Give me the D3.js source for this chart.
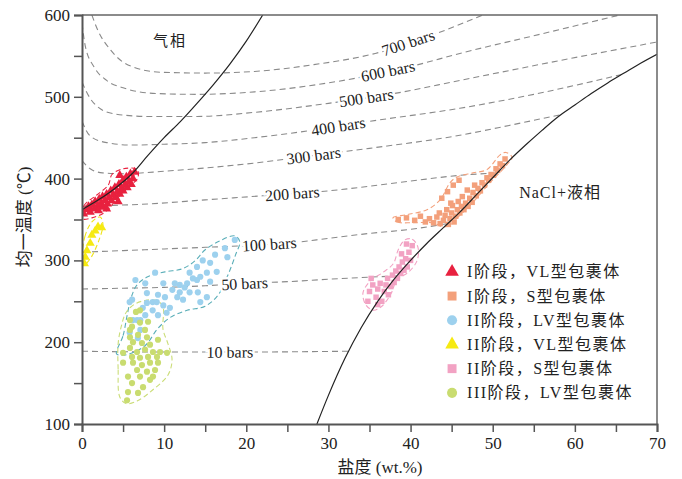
<!DOCTYPE html>
<html>
<head>
<meta charset="utf-8">
<script src="https://cdn.jsdelivr.net/npm/d3@7"></script>
<style>
  body { margin: 0; background: #fff; }
  svg { display: block; }
</style>
</head>
<body>
<script>
// axis ticks
const xTicks = [0, 10, 20, 30, 40, 50, 60, 70]
const yTicks = [100, 200, 300, 400, 500, 600]

// phase boundaries [salinity wt.%, temperature]
const vlCurve = [[0, 362], [2, 374], [4, 388], [6, 405], [8, 428], [10, 450], [12, 470], [14, 492], [16, 515], [18, 540], [20, 568], [22, 600]]
const haliteCurve = [[28.6, 100], [30, 135], [32, 180], [34, 218], [36, 250], [38, 277], [40, 300], [42, 321], [44, 340], [46, 359], [48, 380], [50, 401], [52, 422], [54, 441], [56, 459], [58, 476], [60, 490], [62, 504], [64, 517], [66, 529], [68, 541], [70, 552]]

// isobars
const isobarNames = ["10 bars", "50 bars", "100 bars", "200 bars", "300 bars", "400 bars", "500 bars", "600 bars", "700 bars"]
const isobars = [
  [[0, 189], [10, 188], [20, 188], [32.5, 189]],
  [[0, 265], [5, 266], [10, 267], [15, 269], [20, 272], [25, 274], [30, 277], [38.3, 281]],
  [[0, 310], [5, 312], [10, 314], [15, 316], [20, 318], [26, 322], [30, 327], [35, 333], [40, 338], [44.5, 345]],
  [[0, 366], [3, 367], [8, 369], [15, 374], [22, 379], [30, 385], [40, 397], [46, 404], [50.6, 407]],
  [[0, 422], [1, 412], [2.5, 407], [5, 406], [10, 409], [15, 413], [21, 419], [28, 428], [35, 437], [46, 453], [52, 465], [58.2, 478]],
  [[0, 470], [1, 452], [3, 444], [6, 441], [10, 442], [15, 444], [21, 450], [28, 459], [35, 470], [46, 486], [55, 503], [65.6, 527]],
  [[0, 518], [1, 498], [2, 487], [4, 479], [8, 476], [14, 476], [21, 481], [30, 492], [38, 504], [46, 520], [58, 544], [70, 567]],
  [[0, 590], [0.4, 562], [1.5, 536], [3, 520], [5, 511], [9, 504], [14, 503], [21, 506], [30, 517], [40, 537], [46, 553], [56, 577], [65.5, 600]],
  [[1.2, 600], [1.9, 582], [3.5, 557], [5.6, 539], [9.6, 530], [15, 529], [21, 531], [28, 539], [35.7, 553], [43.3, 578], [48.8, 600]],
]
const isobarLabelAt = [18.0, 19.8, 22.8, 25.6, 28.2, 31.2, 34.6, 37.25, 39.7]

// series
const seriesNames = ["I阶段，VL型包裹体", "I阶段，S型包裹体", "II阶段，LV型包裹体", "II阶段，VL型包裹体", "II阶段，S型包裹体", "III阶段，LV型包裹体"]
const seriesColors = ["#e8213f", "#f3a07b", "#9dd1ee", "#f6ea12", "#f2a2c3", "#c9dc70"]
const envelopeColors = ["#e8213f", "#f3a07b", "#5aaeb8", "#f0e418", "#f2a2c3", "#cbdd78"]

const stage1VL = [[0.2, 357], [0.5, 362], [0.8, 366], [1.0, 359], [1.2, 368], [1.5, 363], [1.6, 372], [1.9, 367], [2.1, 375], [2.3, 369], [2.5, 378], [2.6, 365], [2.8, 373], [3.0, 381], [3.1, 369], [3.3, 377], [3.5, 385], [3.6, 373], [3.8, 380], [4.0, 389], [4.1, 377], [4.3, 384], [4.5, 393], [4.6, 381], [4.8, 388], [5.0, 398], [5.0, 385], [5.2, 392], [5.4, 402], [5.5, 389], [5.7, 396], [5.9, 406], [6.0, 393], [6.2, 400], [6.4, 408], [3.0, 363], [2.0, 361], [4.4, 372], [4.6, 404]]
const stage1S = [[38.5, 350], [39.5, 352], [40.5, 349], [41.2, 354], [41.8, 347], [42.3, 351], [42.8, 346], [43.2, 353], [43.5, 358], [43.6, 345], [44.0, 349], [44.2, 355], [44.4, 362], [44.6, 344], [44.8, 351], [45.0, 358], [45.1, 367], [45.3, 347], [45.5, 354], [45.7, 362], [45.8, 372], [46.0, 358], [46.2, 366], [46.3, 378], [46.5, 362], [46.7, 370], [46.9, 386], [47.0, 366], [47.2, 376], [47.5, 371], [47.6, 383], [47.8, 392], [48.0, 379], [48.2, 388], [48.5, 385], [48.7, 395], [49.0, 392], [49.3, 401], [49.5, 398], [49.8, 405], [50.1, 404], [50.4, 412], [50.6, 410], [50.9, 418], [51.2, 416], [51.5, 424], [44.5, 384], [45.2, 392], [45.9, 398], [43.8, 376], [44.9, 370]]
const stage2LV = [[18.6, 325], [17.4, 315], [16.2, 307], [14.7, 300], [15.6, 297], [16.4, 286], [15.2, 285], [14.4, 280], [14.0, 276], [13.5, 278], [12.8, 272], [11.9, 270], [11.0, 264], [11.9, 261], [13.1, 261], [14.1, 261], [15.2, 255], [14.4, 249], [12.3, 252], [11.6, 255], [10.1, 255], [9.25, 258], [8.6, 249], [7.9, 248], [9.9, 245], [10.7, 242], [8.6, 239], [7.4, 242], [7.1, 227], [6.2, 227], [5.8, 249], [6.5, 276], [8.9, 285], [9.9, 272], [7.1, 215], [7.7, 233], [17.7, 304], [14.0, 292], [13.1, 285], [12.5, 267], [15.6, 274], [7.9, 260], [9.25, 233], [10.3, 236], [6.8, 205], [11.3, 272], [6.1, 252], [7.7, 272], [5.8, 212], [6.7, 227], [9.1, 249]]
const stage2VL = [[1.95, 341], [2.4, 340], [1.2, 331], [1.0, 321], [0.4, 304], [0.6, 312], [1.6, 336], [0.3, 296]]
const stage2S = [[35.0, 262], [35.4, 270], [35.8, 255], [36.0, 265], [36.3, 272], [36.5, 250], [36.8, 262], [37.0, 270], [37.2, 278], [37.3, 258], [37.6, 268], [37.8, 282], [38.0, 273], [38.2, 287], [38.4, 278], [38.6, 292], [38.8, 284], [39.0, 298], [39.2, 288], [39.4, 302], [39.6, 292], [39.8, 310], [40.0, 300], [40.2, 318], [39.5, 320], [38.9, 308], [34.8, 250], [36.0, 246], [35.2, 278]]
const stage3LV = [[7.06, 239], [5.84, 227], [7.06, 224], [6.09, 219], [7.67, 215], [6.82, 209], [5.84, 206], [7.91, 206], [6.21, 200], [7.3, 199], [8.28, 197], [5.84, 193], [6.7, 188], [7.67, 191], [8.64, 188], [9.5, 188], [10.35, 187], [6.09, 182], [7.06, 181], [8.04, 182], [9.13, 182], [6.21, 175], [7.3, 172], [8.28, 175], [9.25, 175], [6.7, 166], [7.91, 164], [8.89, 166], [5.6, 158], [7.06, 158], [8.28, 154], [6.09, 150], [7.43, 145], [5.6, 139], [6.82, 138], [5.48, 129], [5.0, 175], [5.0, 187], [5.84, 215], [9.25, 203], [8.04, 225], [8.64, 158], [6.57, 237]]

// dashed outlines round each group
const envStage1VL = [[0, 351], [0.25, 367], [1.8, 380], [3.2, 392], [3.65, 405], [5.0, 412], [6.7, 411], [6.8, 401], [5.85, 391], [4.4, 377], [2.8, 359], [1.2, 352]]
const envStage1S = [[37.86, 352], [38.35, 347], [40.3, 346], [42.73, 346], [43.95, 341], [44.8, 343], [46.0, 355], [47.6, 371], [49.67, 395], [51.74, 417], [52.35, 426], [51.6, 432], [50.9, 429], [49.3, 411], [47.6, 407], [45.65, 402], [44.8, 395], [43.6, 374], [42.0, 362], [39.6, 356]]
const envStage2LV = [[4.2, 186], [5.0, 208], [5.5, 233], [6.0, 255], [6.7, 270], [8.0, 280], [10.1, 286], [12.3, 290], [13.8, 300], [15.0, 313], [16.8, 324], [18.6, 330], [19.2, 323], [18.7, 307], [17.8, 283], [16.6, 258], [15.0, 244], [12.8, 239], [10.7, 230], [9.25, 217], [7.7, 196], [5.85, 186], [4.8, 184]]
const envStage2VL = [[0.05, 301], [0.35, 329], [1.2, 347], [2.2, 353], [2.55, 344], [2.0, 323], [1.0, 302], [0.3, 295]]
const envStage2S = [[39.3, 325], [40.2, 326], [40.9, 316], [40.8, 300], [39.8, 286], [38.35, 276], [37.6, 259], [36.5, 244], [35.5, 239], [34.6, 245], [34.2, 260], [35.1, 275], [36.6, 285], [37.9, 296], [38.5, 313]]
const envStage3LV = [[4.6, 133], [4.4, 167], [4.4, 198], [4.75, 218], [5.35, 236], [6.33, 246], [7.67, 251], [9.13, 251], [9.86, 243], [9.86, 216], [10.47, 198], [10.96, 179], [10.47, 160], [8.52, 141], [6.7, 128], [5.36, 125]]

const groups = [stage1VL, stage1S, stage2LV, stage2VL, stage2S, stage3LV]
const envelopes = [envStage1VL, envStage1S, envStage2LV, envStage2VL, envStage2S, envStage3LV]
const shapes = ["triangle", "square", "circle", "triangle", "square", "circle"]

function drawChart() {
  const width = 682
  const height = 479
  const dimensions = {
    margin: { top: 15, right: 25, bottom: 55, left: 82 },
  }
  dimensions.boundedWidth = width - dimensions.margin.left - dimensions.margin.right
  dimensions.boundedHeight = height - dimensions.margin.top - dimensions.margin.bottom

  const serif = "Liberation Serif, Noto Sans CJK SC, serif"

  const wrapper = d3.select("body").append("svg")
      .attr("width", width)
      .attr("height", height)

  const bounds = wrapper.append("g")
      .attr("transform", `translate(${dimensions.margin.left},${dimensions.margin.top})`)

  const xScale = d3.scaleLinear().domain([0, 70]).range([0, dimensions.boundedWidth])
  const yScale = d3.scaleLinear().domain([100, 600]).range([dimensions.boundedHeight, 0])

  bounds.append("clipPath").attr("id", "plot-clip")
    .append("rect")
      .attr("width", dimensions.boundedWidth)
      .attr("height", dimensions.boundedHeight)

  const plot = bounds.append("g").attr("clip-path", "url(#plot-clip)")

  const line = d3.line()
    .x(d => xScale(d[0]))
    .y(d => yScale(d[1]))
    .curve(d3.curveMonotoneX)

  // isobars
  plot.selectAll(".isobar")
    .data(isobars)
    .join("path")
      .attr("class", "isobar")
      .attr("d", line)
      .attr("fill", "none")
      .attr("stroke", "#8a8a8a")
      .attr("stroke-width", 1.1)
      .attr("stroke-dasharray", "6,4")

  // isobar labels, tilted along their line
  const interp = (pts, s) => {
    for (let i = 1; i < pts.length; i++) {
      if (s <= pts[i][0]) {
        const t = (s - pts[i - 1][0]) / (pts[i][0] - pts[i - 1][0])
        return pts[i - 1][1] + t * (pts[i][1] - pts[i - 1][1])
      }
    }
    return pts[pts.length - 1][1]
  }
  isobars.forEach((pts, i) => {
    const s = isobarLabelAt[i]
    const x0 = xScale(s - 3), y0 = yScale(interp(pts, s - 3))
    const x1 = xScale(s + 3), y1 = yScale(interp(pts, s + 3))
    const angle = Math.atan2(y1 - y0, x1 - x0) * 180 / Math.PI
    bounds.append("text")
      .attr("transform", `translate(${xScale(s)},${yScale(interp(pts, s))}) rotate(${angle})`)
      .attr("text-anchor", "middle")
      .attr("dy", "0.35em")
      .attr("font-family", serif)
      .attr("font-size", 16)
      .attr("fill", "#222")
      .attr("stroke", "#fff")
      .attr("stroke-width", 5)
      .attr("paint-order", "stroke")
      .text(isobarNames[i])
  })

  // envelopes
  const closed = d3.line()
    .x(d => xScale(d[0]))
    .y(d => yScale(d[1]))
    .curve(d3.curveCatmullRomClosed.alpha(0.5))

  plot.selectAll(".envelope")
    .data(envelopes)
    .join("path")
      .attr("class", "envelope")
      .attr("d", closed)
      .attr("fill", "none")
      .attr("stroke", (d, i) => envelopeColors[i])
      .attr("stroke-width", 1.1)
      .attr("stroke-dasharray", "5,3")

  const symbolFor = (shape, size) => {
    const type = shape === "triangle" ? d3.symbolTriangle : shape === "square" ? d3.symbolSquare : d3.symbolCircle
    return d3.symbol().type(type).size(size)()
  }

  groups.forEach((pts, i) => {
    const size = shapes[i] === "triangle" ? 36 : 30
    plot.append("g").selectAll("path")
      .data(pts)
      .join("path")
        .attr("transform", d => `translate(${xScale(d[0])},${yScale(d[1])})`)
        .attr("d", symbolFor(shapes[i], size))
        .attr("fill", seriesColors[i])
  })

  // phase boundaries, drawn over the clusters
  plot.selectAll(".boundary")
    .data([vlCurve, haliteCurve])
    .join("path")
      .attr("class", "boundary")
      .attr("d", line)
      .attr("fill", "none")
      .attr("stroke", "#222")
      .attr("stroke-width", 1.2)

  // field labels
  bounds.append("text")
      .attr("x", xScale(10.7))
      .attr("y", yScale(562))
      .attr("text-anchor", "middle")
      .attr("font-family", serif)
      .attr("font-size", 15)
      .attr("fill", "#222")
      .style("letter-spacing", "2px")
      .text("气相")

  bounds.append("text")
      .attr("x", xScale(58.2))
      .attr("y", yScale(376))
      .attr("text-anchor", "middle")
      .attr("font-family", serif)
      .attr("font-size", 16)
      .attr("fill", "#222")
      .style("letter-spacing", "1px")
      .text("NaCl+液相")

  // frame
  bounds.append("path")
      .attr("d", `M0,0H${dimensions.boundedWidth}V${dimensions.boundedHeight}`)
      .attr("fill", "none")
      .attr("stroke", "#666")
      .attr("stroke-width", 1.5)

  // axes
  const xAxis = bounds.append("g")
      .attr("transform", `translate(0,${dimensions.boundedHeight})`)
      .call(d3.axisBottom(xScale).tickValues(d3.range(0, 71, 5)).tickSize(8).tickPadding(5)
        .tickFormat(d => xTicks.includes(d) ? d : ""))
  const yAxis = bounds.append("g")
      .call(d3.axisLeft(yScale).tickValues(d3.range(100, 601, 50)).tickSize(8).tickPadding(4)
        .tickFormat(d => yTicks.includes(d) ? d : ""))

  ;[xAxis, yAxis].forEach(axis => {
    axis.attr("font-family", serif).attr("font-size", 17)
    axis.select(".domain").attr("stroke", "#555").attr("stroke-width", 2)
    axis.selectAll(".tick line").attr("stroke", "#555").attr("stroke-width", 1.5)
    axis.selectAll(".tick text").attr("fill", "#222")
  })

  wrapper.append("text")
      .attr("x", 380)
      .attr("y", 473)
      .attr("text-anchor", "middle")
      .attr("font-family", serif)
      .attr("font-size", 17)
      .attr("fill", "#222")
      .text("盐度 (wt.%)")

  wrapper.append("text")
      .attr("transform", `translate(30,217) rotate(-90)`)
      .attr("text-anchor", "middle")
      .attr("font-family", serif)
      .attr("font-size", 17)
      .attr("fill", "#222")
      .text("均一温度 (℃)")

  // legend
  const legend = bounds.append("g")
      .attr("transform", `translate(${xScale(45.05)},${yScale(286)})`)
  const rows = legend.selectAll("g")
    .data(seriesNames)
    .join("g")
      .attr("transform", (d, i) => `translate(0,${i * 24.2})`)
  rows.append("path")
      .attr("d", (d, i) => symbolFor(shapes[i], 80))
      .attr("fill", (d, i) => seriesColors[i])
  rows.append("text")
      .attr("x", 15)
      .attr("dy", "0.35em")
      .attr("font-family", serif)
      .attr("font-size", 16)
      .attr("fill", "#222")
      .style("letter-spacing", "1.5px")
      .text(d => d)
}
drawChart()
</script>
</body>
</html>
